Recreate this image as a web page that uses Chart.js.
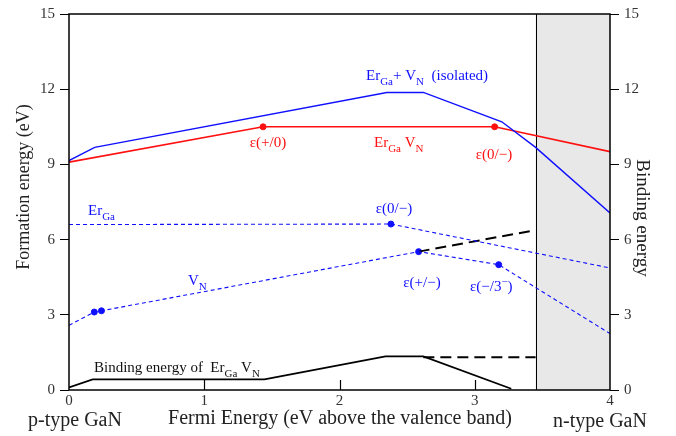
<!DOCTYPE html>
<html>
<head>
<meta charset="utf-8">
<script src="https://cdn.jsdelivr.net/npm/chart.js@4.4.1/dist/chart.umd.min.js"></script>
<style>
  html, body { margin: 0; padding: 0; background: #fff; }
  #wrap { width: 676px; height: 436px; }
</style>
</head>
<body>
<div id="wrap"><canvas id="myChart" width="676" height="436"></canvas></div>
<script>
// data (x = Fermi energy in eV, y = energy in eV)
const complexX = [0, 1.435, 3.147, 4];
const complexY = [9.09, 10.50, 10.50, 9.51];
const isolatedX = [0, 0.19, 2.35, 2.62, 3.2, 3.45, 4];
const isolatedY = [9.15, 9.68, 11.87, 11.87, 10.70, 9.68, 7.06];
const erGaX = [0, 2.38, 4];
const erGaY = [6.60, 6.62, 4.87];
const vnX = [0, 0.187, 0.24, 2.585, 3.177, 4];
const vnY = [2.58, 3.11, 3.16, 5.52, 5.00, 2.25];
const bindX = [0, 0.175, 1.445, 2.34, 2.62, 3.27];
const bindY = [0.10, 0.42, 0.42, 1.34, 1.34, 0.05];
const bindDashX = [2.62, 3.45];
const bindDashY = [1.31, 1.31];
const extDashX = [2.585, 3.45];
const extDashY = [5.52, 6.38];
const redDotsX = [1.435, 3.147];
const redDotsY = [10.50, 10.50];
const blueDotsX = [2.38, 2.585, 3.177, 0.187, 0.24];
const blueDotsY = [6.62, 5.52, 5.00, 3.11, 3.16];
const xTicks = [0, 1, 2, 3, 4];
const yTicks = [0, 3, 6, 9, 12, 15];
const bandGap = 3.45;

const BLUE = '#1010ff';
const RED = '#ff1010';
const SERIF = '"Liberation Serif", "DejaVu Serif", serif';

function pts(xs, ys) {
  return xs.map((x, i) => ({ x: x, y: ys[i] }));
}

function lineSet(xs, ys, color, width, dash) {
  return {
    type: 'line',
    data: pts(xs, ys),
    borderColor: color,
    borderWidth: width,
    borderDash: dash || [],
    pointRadius: 0,
    fill: false,
    tension: 0
  };
}

// draw text with sub/superscript pieces: [[text, 'n'|'sub'|'sup'], ...]
function richText(c, parts, x, y, size, color, align) {
  c.save();
  c.fillStyle = color;
  c.textBaseline = 'alphabetic';
  c.textAlign = 'left';
  let total = 0;
  parts.forEach(p => {
    c.font = (p[1] === 'n' ? size : Math.round(size * 0.7)) + 'px ' + SERIF;
    total += c.measureText(p[0]).width;
  });
  let cx = align === 'center' ? x - total / 2 : x;
  parts.forEach(p => {
    const s = p[1] === 'n' ? size : Math.round(size * 0.7);
    c.font = s + 'px ' + SERIF;
    let dy = 0;
    if (p[1] === 'sub') dy = size * 0.35;
    if (p[1] === 'sup') dy = -size * 0.4;
    c.fillText(p[0], cx, y + dy);
    cx += c.measureText(p[0]).width;
  });
  c.restore();
}

const decor = {
  id: 'decor',
  beforeDatasetsDraw(chart) {
    const c = chart.ctx;
    const a = chart.chartArea;
    const xs = chart.scales.x;
    const g = xs.getPixelForValue(bandGap);
    c.save();
    c.fillStyle = '#e8e8e8';
    c.fillRect(g, a.top, a.right - g, a.bottom - a.top);
    c.strokeStyle = '#000';
    c.lineWidth = 1;
    c.beginPath();
    c.moveTo(Math.round(g) + 0.5, a.top);
    c.lineTo(Math.round(g) + 0.5, a.bottom);
    c.stroke();
    c.restore();
  },
  afterDraw(chart) {
    const c = chart.ctx;
    const a = chart.chartArea;
    const xs = chart.scales.x;
    c.save();
    // frame
    c.strokeStyle = '#000';
    c.lineWidth = 1.5;
    c.strokeRect(a.left, a.top, a.right - a.left, a.bottom - a.top);
    // inside ticks on the bottom axis
    c.lineWidth = 1.2;
    xTicks.slice(1, -1).forEach(v => {
      const px = Math.round(xs.getPixelForValue(v)) + 0.5;
      c.beginPath();
      c.moveTo(px, a.bottom);
      c.lineTo(px, a.bottom - 10);
      c.stroke();
    });
    c.restore();

    // axis titles
    c.save();
    c.fillStyle = '#222';
    c.font = '18px ' + SERIF;
    c.textAlign = 'center';
    c.textBaseline = 'middle';
    c.translate(24, 187);
    c.rotate(-Math.PI / 2);
    c.fillText('Formation energy (eV)', 0, 0);
    c.restore();

    c.save();
    c.fillStyle = '#222';
    c.font = '19px ' + SERIF;
    c.textAlign = 'center';
    c.textBaseline = 'middle';
    c.translate(642, 218);
    c.rotate(Math.PI / 2);
    c.fillText('Binding energy', 0, 0);
    c.restore();

    c.save();
    c.fillStyle = '#222';
    c.font = '20px ' + SERIF;
    c.textBaseline = 'alphabetic';
    c.textAlign = 'center';
    c.fillText('Fermi Energy (eV above the valence band)', 340, 424);
    c.fillText('p-type GaN', 75, 426);
    c.fillText('n-type GaN', 600, 427);
    c.restore();

    // annotations
    richText(c, [['Er', 'n'], ['Ga', 'sub'], ['+ V', 'n'], ['N', 'sub'], ['  (isolated)', 'n']], 366, 80, 15, BLUE, 'left');
    richText(c, [['Er', 'n'], ['Ga', 'sub'], [' V', 'n'], ['N', 'sub']], 374, 147, 15, RED, 'left');
    richText(c, [['\u03b5(+/0)', 'n']], 268, 147, 15, RED, 'center');
    richText(c, [['\u03b5(0/\u2212)', 'n']], 494, 159, 15, RED, 'center');
    richText(c, [['Er', 'n'], ['Ga', 'sub']], 88, 215, 15, BLUE, 'left');
    richText(c, [['\u03b5(0/\u2212)', 'n']], 394, 213, 15, BLUE, 'center');
    richText(c, [['V', 'n'], ['N', 'sub']], 188, 285, 15, BLUE, 'left');
    richText(c, [['\u03b5(+/\u2212)', 'n']], 422, 287, 15, BLUE, 'center');
    richText(c, [['\u03b5(\u2212/3', 'n'], ['\u2212', 'sup'], [')', 'n']], 470, 291, 15, BLUE, 'left');
    richText(c, [['Binding energy of  Er', 'n'], ['Ga', 'sub'], [' V', 'n'], ['N', 'sub']], 94, 372, 15, '#111', 'left');
  }
};

const ctx = document.getElementById('myChart').getContext('2d');

const myChart = new Chart(ctx, {
  type: 'line',
  data: {
    datasets: [
      lineSet(isolatedX, isolatedY, BLUE, 1.4),
      lineSet(complexX, complexY, RED, 1.6),
      lineSet(erGaX, erGaY, BLUE, 1.1, [4, 3]),
      lineSet(vnX, vnY, BLUE, 1.1, [4, 3]),
      lineSet(extDashX, extDashY, '#000', 2, [11, 6]),
      lineSet(bindDashX, bindDashY, '#000', 2, [11, 6]),
      lineSet(bindX, bindY, '#000', 1.8),
      {
        type: 'scatter',
        data: pts(redDotsX, redDotsY),
        backgroundColor: RED,
        borderColor: RED,
        pointRadius: 3
      },
      {
        type: 'scatter',
        data: pts(blueDotsX, blueDotsY),
        backgroundColor: BLUE,
        borderColor: BLUE,
        pointRadius: 3
      }
    ]
  },
  options: {
    responsive: false,
    animation: false,
    layout: { padding: { top: 11, left: 0, right: 0, bottom: 0 } },
    plugins: {
      legend: { display: false },
      tooltip: { enabled: false }
    },
    scales: {
      x: {
        type: 'linear',
        min: 0,
        max: 4,
        afterBuildTicks: s => { s.ticks = xTicks.map(v => ({ value: v })); },
        afterFit: s => { s.height = 46; },
        grid: { display: true, drawOnChartArea: false, drawTicks: false, color: '#000' },
        border: { display: false },
        ticks: { color: '#333', padding: 2, font: { family: SERIF, size: 15 } }
      },
      y: {
        type: 'linear',
        position: 'left',
        min: 0,
        max: 15,
        afterBuildTicks: s => { s.ticks = yTicks.map(v => ({ value: v })); },
        afterFit: s => { s.width = 69; },
        grid: { drawOnChartArea: false, tickLength: 9, color: '#000' },
        border: { display: false },
        ticks: { color: '#333', padding: 5, font: { family: SERIF, size: 15 } }
      },
      y2: {
        type: 'linear',
        position: 'right',
        min: 0,
        max: 15,
        afterBuildTicks: s => { s.ticks = yTicks.map(v => ({ value: v })); },
        afterFit: s => { s.width = 66; },
        grid: { drawOnChartArea: false, tickLength: 9, color: '#000' },
        border: { display: false },
        ticks: { color: '#333', padding: 5, font: { family: SERIF, size: 15 } }
      }
    }
  },
  plugins: [decor]
});
</script>
</body>
</html>
